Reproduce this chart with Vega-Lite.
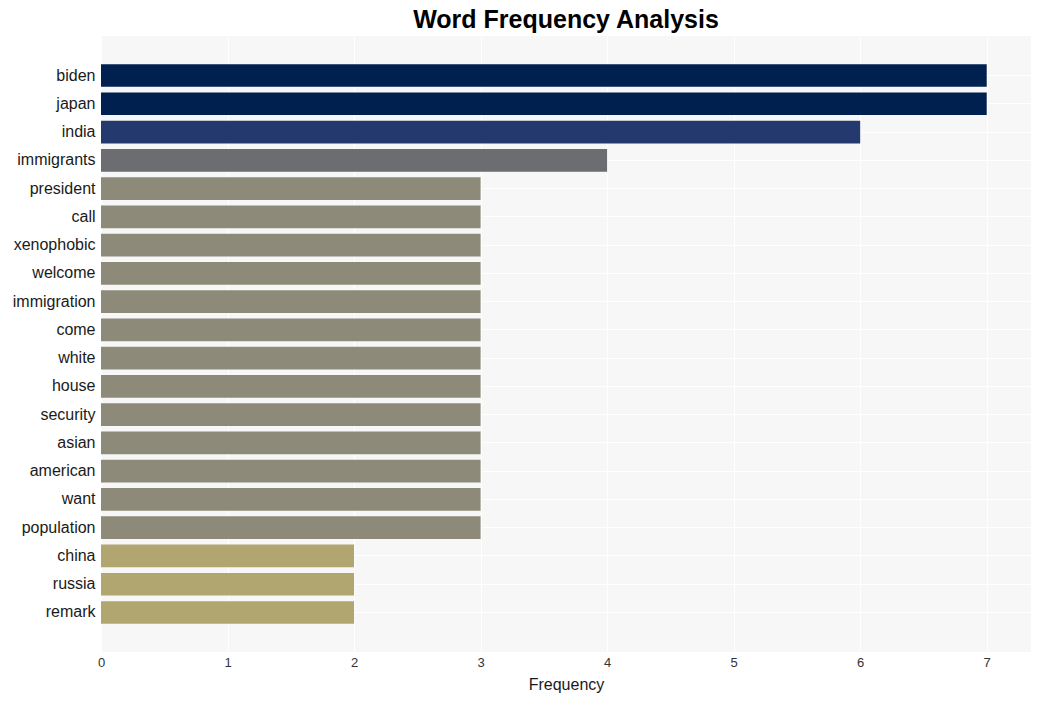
{
  "$schema": "https://vega.github.io/schema/vega-lite/v6.json",
  "autosize": {"type": "none"},
  "padding": {"left": 101, "top": 36, "right": 10, "bottom": 49},
  "width": 930,
  "height": 616,
  "background": "white",
  "title": {
    "text": "Word Frequency Analysis",
    "font": "Liberation Sans",
    "fontSize": 25,
    "fontWeight": "bold",
    "color": "#000000",
    "anchor": "middle",
    "offset": 3
  },
  "config": {
    "view": {"fill": "#f7f7f7", "stroke": null},
    "axis": {"labelFont": "Liberation Sans", "titleFont": "Liberation Sans"}
  },
  "data": {
    "values": [
      {"word": "biden", "freq": 7},
      {"word": "japan", "freq": 7},
      {"word": "india", "freq": 6},
      {"word": "immigrants", "freq": 4},
      {"word": "president", "freq": 3},
      {"word": "call", "freq": 3},
      {"word": "xenophobic", "freq": 3},
      {"word": "welcome", "freq": 3},
      {"word": "immigration", "freq": 3},
      {"word": "come", "freq": 3},
      {"word": "white", "freq": 3},
      {"word": "house", "freq": 3},
      {"word": "security", "freq": 3},
      {"word": "asian", "freq": 3},
      {"word": "american", "freq": 3},
      {"word": "want", "freq": 3},
      {"word": "population", "freq": 3},
      {"word": "china", "freq": 2},
      {"word": "russia", "freq": 2},
      {"word": "remark", "freq": 2}
    ]
  },
  "mark": {"type": "bar"},
  "encoding": {
    "y": {
      "field": "word",
      "type": "nominal",
      "sort": null,
      "scale": {"paddingInner": 0.2, "paddingOuter": 1.0},
      "axis": {
        "title": null,
        "ticks": false,
        "domain": false,
        "labelFontSize": 16,
        "labelColor": "#1a1a1a",
        "labelPadding": 6,
        "grid": true,
        "gridColor": "#ffffff",
        "gridWidth": 1,
        "bandPosition": 0.5
      }
    },
    "x": {
      "field": "freq",
      "type": "quantitative",
      "scale": {"domain": [0, 7.35], "nice": false, "zero": true},
      "axis": {
        "title": "Frequency",
        "titleFontSize": 16,
        "titleFontWeight": "normal",
        "titleColor": "#1a1a1a",
        "titlePadding": 7,
        "values": [0, 1, 2, 3, 4, 5, 6, 7],
        "format": "d",
        "ticks": false,
        "domain": false,
        "labelFlush": false,
        "labelFontSize": 13,
        "labelColor": "#333333",
        "labelPadding": 4,
        "grid": true,
        "gridColor": "#ffffff",
        "gridWidth": 1
      }
    },
    "color": {
      "field": "freq",
      "type": "ordinal",
      "scale": {
        "domain": [2, 3, 4, 6, 7],
        "range": ["#b2a670", "#8e8a7a", "#6c6d71", "#243a6e", "#00214f"]
      },
      "legend": null
    }
  }
}
